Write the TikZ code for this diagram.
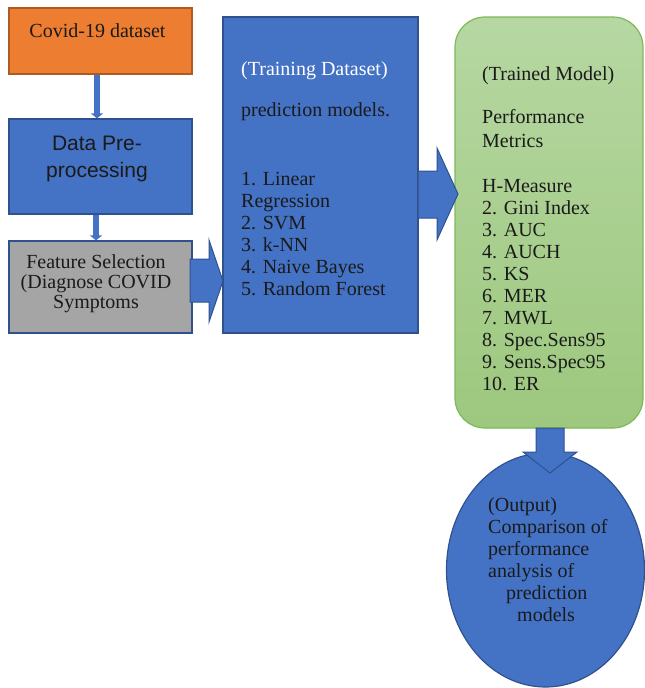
\documentclass[tikz,border=0pt]{standalone}
\usepackage{fontspec}
\setmainfont{Liberation Serif}
\newfontfamily\arialf{Liberation Sans}
\usetikzlibrary{arrows.meta,shapes.geometric}
\definecolor{orfill}{HTML}{ED7D31}
\definecolor{ordraw}{HTML}{AE5A21}
\definecolor{bfill}{HTML}{4472C4}
\definecolor{bdraw}{HTML}{2F528F}
\definecolor{gfill}{HTML}{A5A5A5}
\definecolor{grtop}{HTML}{B6D7A2}
\definecolor{grbot}{HTML}{9DC87E}
\definecolor{grdraw}{HTML}{7DB95A}
\definecolor{ink}{HTML}{1A1A1A}
\begin{document}
\begin{tikzpicture}[x=1pt,y=-1pt,
  box/.style={rectangle,line width=1.2pt,inner sep=0pt},
  obox/.style={box,fill=orfill,draw=ordraw},
  bbox/.style={box,fill=bfill,draw=bdraw},
  gbox/.style={box,fill=gfill,draw=bdraw},
  greenbox/.style={box,rounded corners=30pt,top color=grtop,bottom color=grbot,draw=grdraw},
  outell/.style={ellipse,fill=bfill,draw=bdraw,line width=1.2pt,inner sep=0pt},
  txt/.style={inner sep=0pt,text=ink,font=\fontsize{20}{22}\selectfont},
  stxt/.style={inner sep=0pt,text=ink,font=\arialf\fontsize{21}{24}\selectfont},
  conn/.style={draw=bfill,line width=6pt,-{Triangle[width=12pt,length=5pt]}},
  blockarrow/.style={fill=bfill,draw=bdraw,line width=1pt,line join=miter}
]
\useasboundingbox (0,0) rectangle (645,688);

% boxes
\node[obox,minimum width=183pt,minimum height=66pt] (covid) at (100.5,41) {};
\node[bbox,minimum width=183pt,minimum height=95pt] (pre) at (100.5,166.5) {};
\node[gbox,minimum width=183pt,minimum height=92pt] (feat) at (100.5,287) {};
\node[bbox,minimum width=195pt,minimum height=316pt] (train) at (320.5,175) {};
\node[greenbox,minimum width=188pt,minimum height=411pt] (trained) at (549,222.5) {};
\node[outell,minimum width=198pt,minimum height=234pt] (out) at (545.5,570) {};

% thin connectors
\draw[conn] ([xshift=-3.5pt]covid.south) -- ([xshift=-3.5pt]pre.north);
\draw[conn] ([xshift=-4.5pt]pre.south) -- ([xshift=-4.5pt]feat.north);

% block arrows
\draw[blockarrow] (190,259) -- (209,259) -- (209,240) -- (223,281) -- (209,322) -- (209,302) -- (190,302) -- cycle;
\draw[blockarrow] (418,171) -- (437,171) -- (437,148) -- (458,194) -- (437,240) -- (437,218) -- (418,218) -- cycle;
\draw[blockarrow] (536,428) -- (536,452) -- (523,452) -- (550,473) -- (577,452) -- (564,452) -- (564,428) -- cycle;

% texts: left column
\node[txt,anchor=base] (tcovid) at (97.5,37) {Covid-19 dataset};
\node[stxt,anchor=base] (tpre1) at (97,150) {Data Pre-};
\node[stxt,anchor=base] (tpre2) at (97,177) {processing};
\node[txt,anchor=base] (tf1) at (96,268) {Feature Selection};
\node[txt,anchor=base] (tf2) at (96,288) {(Diagnose COVID};
\node[txt,anchor=base] (tf3) at (96,308) {Symptoms};

% training box
\node[txt,anchor=base west,text=white] (ttrain) at (241,75) {(Training Dataset)};
\node[txt,anchor=base west] (tpm) at (241,116) {prediction models.};
\foreach \t [count=\i] in {1. Linear, Regression, 2. SVM, 3. k-NN, 4. Naive Bayes, 5. Random Forest}
  \node[txt,anchor=base west] (tr\i) at (241,{185+22*(\i-1)}) {\t};

% trained model box
\node[txt,anchor=base west] (ttm) at (482,80) {(Trained Model)};
\node[txt,anchor=base west] (tperf) at (482,123) {Performance};
\node[txt,anchor=base west] (tmet) at (482,147) {Metrics};
\foreach \t [count=\i] in {H-Measure, 2. Gini Index, 3. AUC, 4. AUCH, 5. KS, 6. MER, 7. MWL, 8. Spec.Sens95, 9. Sens.Spec95, 10. ER}
  \node[txt,anchor=base west] (tm\i) at (482,{192+22*(\i-1)}) {\t};

% output ellipse
\node[txt,anchor=base west] (to1) at (488,511) {(Output)};
\node[txt,anchor=base west] (to2) at (488,533) {Comparison of};
\node[txt,anchor=base west] (to3) at (488,555) {performance};
\node[txt,anchor=base west] (to4) at (488,577) {analysis of};
\node[txt,anchor=base west] (to5) at (506,599) {prediction};
\node[txt,anchor=base west] (to6) at (517,621) {models};
\end{tikzpicture}
\end{document}
